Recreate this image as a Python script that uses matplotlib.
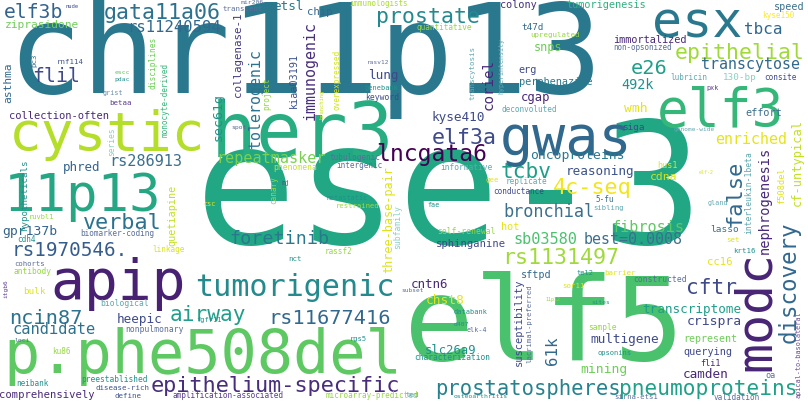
import matplotlib
matplotlib.use("Agg")
import matplotlib.pyplot as plt

# word, colour
words = [
    ("chr11p13", "#2a788e"), ("ese-3", "#22a785"), ("elf5", "#4ac16d"),
    ("p.phe508del", "#5ec962"), ("apip", "#482173"), ("11p13", "#26a784"),
    ("cystic", "#b5de2b"), ("her3", "#27ad81"), ("gwas", "#31688e"),
    ("esx", "#2a788e"), ("elf3", "#35b779"), ("modc", "#482475"),
    ("tumorigenic", "#238a8d"), ("elf3b", "#33638d"), ("ziprasidone", "#6ece58"),
    ("gata11a06", "#2c728e"), ("rs11240594", "#31688e"), ("prostate", "#23898e"),
    ("epithelial", "#a0da39"), ("e26", "#1f9e89"), ("transcytose", "#31688e"),
    ("lncgata6", "#440154"), ("three-base-pair", "#dde318"), ("foretinib", "#2a788e"),
    ("rs1131497", "#a0da39"), ("epithelium-specific", "#472d7b"),
    ("prostatospheres", "#26828e"), ("pneumoproteins", "#1fa187"),
    ("rs11677416", "#31688e"), ("airway", "#1f9e89"), ("ncin87", "#2c728e"),
    ("candidate", "#2c728e"), ("rs1970546.", "#365c8d"), ("verbal", "#2c728e"),
    ("4c-seq", "#f2e51d"), ("tcbv", "#1f9e89"), ("cftr", "#3e4a89"),
    ("discovery", "#31688e"), ("false", "#31688e"), ("fibrosis", "#5ec962"),
    ("best=0.0008", "#3b6f8e"), ("sb03580", "#4ac16d"), ("bronchial", "#3b6f8e"),
    ("repeatmasker", "#7ad151"), ("rs286913", "#3b6f8e"), ("sec61g", "#21918c"),
    ("tolerogenic", "#2c728e"), ("immunogenic", "#472d7b"), ("collagenase-1", "#443983"),
    ("kiaa03191", "#3b528b"), ("flil", "#3e4a89"), ("lung", "#3e4a89"),
    ("collection-often", "#482878"), ("elf3a", "#3e4a89"), ("enriched", "#e5e419"),
    ("oncoproteins", "#2a788e"), ("reasoning", "#3b528b"), ("cdna", "#d2e21b"),
    ("transcriptome", "#1f9e89"), ("crispra", "#3e4a89"), ("multigene", "#3e4a89"),
    ("querying", "#3e4a89"), ("camden", "#482878"), ("fli1", "#482878"),
    ("slc26a9", "#21918c"), ("chst8", "#e5e419"), ("cntn6", "#482878"),
    ("sftpd", "#31688e"), ("susceptibility", "#3e4a89"), ("61k", "#31688e"),
    ("nephrogenesis", "#482878"), ("cf-untypical", "#c2df23"), ("f508del", "#dde318"),
    ("interleukin-1beta", "#5fa8b0"), ("heepic", "#3e4a89"), ("gpr137b", "#33638d"),
    ("quetiapine", "#c2df23"), ("comprehensively", "#482878"), ("phred", "#33638d"),
    ("kyse410", "#3e4a89"), ("immortalized", "#482878"), ("coriel", "#482878"),
    ("perphenazine", "#2a788e"), ("492k", "#21918c"), ("cgap", "#482878"),
    ("snps", "#6ece58"), ("tbca", "#31688e"), ("erg", "#3e4a89"), ("wmh", "#e5e419"),
    ("siga", "#3e4a89"), ("asthma", "#31688e"), ("bulk", "#dde318"),
    ("sphinganine", "#3e4a89"), ("hot", "#e5e419"), ("lasso", "#3b6f8e"),
    ("cc16", "#e5e419"), ("represent", "#6ece58"), ("mining", "#6ece58"),
    ("tumorigenesis", "#2db27d"), ("colony", "#472d7b"), ("speed", "#3b6f8e"),
    ("etsl", "#2a788e"), ("chip", "#31688e"), ("apical-to-basolateral", "#6a4c93"),
    ("immunologists", "#addc30"), ("transient", "#5a6e9a"), ("nude", "#3e4a89"),
    ("mir206", "#5a6e9a"), ("disciplines", "#6ece58"), ("monocyte-derived", "#35b779"),
    ("project", "#95d840"), ("branching", "#c8e020"), ("overexpressed", "#d2e21b"),
    ("rasv12", "#5a6e9a"), ("genebank", "#21918c"), ("keyword", "#3e4a89"),
    ("rnf114", "#3b528b"), ("pc3", "#3b6f8e"), ("escc", "#5ec962"), ("pdac", "#21918c"),
    ("grist", "#6d8da8"), ("betaa", "#5b3d8f"), ("spot", "#5a6e9a"), ("series", "#8ccfc0"),
    ("tubulogenic", "#5a6e9a"), ("intergenic", "#5a6e9a"), ("phenomena", "#c8e020"),
    ("hypotheticals", "#21918c"), ("nj", "#5b3d8f"), ("canary", "#95d840"),
    ("metastatic", "#21918c"), ("csc", "#e5e419"), ("quantitative", "#95d840"),
    ("t47d", "#31688e"), ("upregulated", "#95d840"), ("kyse150", "#fde725"),
    ("non-opsonized", "#5a6e9a"), ("transcytosis", "#5fa8b0"), ("hyperintensity", "#5fa8b0"),
    ("lubricin", "#5fa8b0"), ("130-bp", "#8ccfc0"), ("consite", "#3e4a89"),
    ("pxk", "#5b3d8f"), ("deconvoluted", "#5fa8b0"), ("effort", "#3b6f8e"),
    ("genome-wide", "#5fa8b0"), ("hus1", "#e5e419"), ("elf-2", "#dde318"),
    ("informative", "#5fa8b0"), ("gee", "#e5e419"), ("replicate", "#5fa8b0"),
    ("conductance", "#3e4a89"), ("5-fu", "#3b6f8e"), ("gland", "#5fa8b0"),
    ("cdh4", "#21918c"), ("ruvbl1", "#95d840"), ("biomarker-coding", "#5a6e9a"),
    ("linkage", "#dde318"), ("cohorts", "#5a6e9a"), ("antibody", "#95d840"),
    ("restrained", "#a0da39"), ("rassf2", "#95d840"), ("nct", "#21918c"),
    ("subfamily", "#8ccfc0"), ("itgb6", "#5b3d8f"), ("biological", "#5fa8b0"),
    ("fgfr11", "#21918c"), ("nonpulmonary", "#5a6e9a"), ("loci", "#5a6e9a"),
    ("rgs5", "#21918c"), ("ku86", "#95d840"), ("neibank", "#21918c"),
    ("preestablished", "#21918c"), ("disease-rich", "#3b528b"), ("define", "#3b528b"),
    ("amplification-associated", "#5b3d8f"), ("microarray-predicted", "#95d840"),
    ("self-renewal", "#95d840"), ("fae", "#21918c"), ("sibling", "#5fa8b0"),
    ("krt16", "#21918c"), ("set", "#dde318"), ("tel2", "#21918c"), ("barrier", "#dde318"),
    ("constructed", "#5a6e9a"), ("subset", "#5a6e9a"), ("sor11", "#dde318"),
    ("lacrimal-preferred", "#5a6e9a"), ("11p12", "#95d840"), ("databank", "#21918c"),
    ("sites", "#21918c"), ("d407", "#21918c"), ("sample", "#95d840"), ("elk-4", "#5a6e9a"),
    ("opsonins", "#21918c"), ("characterization", "#21918c"), ("oa", "#5a6e9a"),
    ("osteoarthritis", "#21918c"), ("sirna-ets1", "#5a6e9a"), ("validation", "#5a6e9a"),
    ("ted", "#5fa8b0"),
]

# layout in pixels: centre x, centre y, ink span, vertical?
layout = {
    "chr11p13": (305, 58, 585, 0), "ese-3": (450, 196, 500, 0), "elf5": (544, 328, 275, 0),
    "p.phe508del": (203, 357, 392, 0), "apip": (118, 284, 133, 0), "11p13": (83, 197, 155, 0),
    "cystic": (107, 135, 193, 0), "her3": (303, 136, 180, 0), "gwas": (566, 140, 130, 0),
    "esx": (697, 24, 89, 0), "elf3": (721, 112, 125, 0), "modc": (756, 311, 118, 1),
    "tumorigenic": (295, 288, 196, 0), "elf3b": (34, 13, 58, 0), "ziprasidone": (42, 25, 73, 0),
    "gata11a06": (162, 13, 115, 0), "rs11240594": (174, 27, 92, 0), "prostate": (428, 17, 102, 0),
    "epithelial": (740, 53, 127, 0), "e26": (649, 68, 36, 0), "transcytose": (750, 65, 98, 0),
    "lncgata6": (432, 154, 109, 0), "three-base-pair": (389, 220, 105, 1),
    "foretinib": (279, 239, 98, 0), "rs1131497": (561, 258, 115, 0),
    "epithelium-specific": (275, 386, 246, 0), "prostatospheres": (528, 389, 182, 0),
    "pneumoproteins": (708, 389, 175, 0), "rs11677416": (330, 318, 120, 0),
    "airway": (208, 315, 75, 0), "ncin87": (46, 318, 72, 0), "candidate": (54, 330, 82, 0),
    "rs1970546.": (70, 250, 114, 0), "verbal": (122, 223, 77, 0), "4c-seq": (592, 188, 77, 0),
    "tcbv": (526, 172, 50, 0), "cftr": (712, 288, 50, 0), "discovery": (789, 282, 120, 1),
    "false": (735, 193, 65, 1), "fibrosis": (648, 227, 72, 0), "best=0.0008": (633, 239, 98, 0),
    "sb03580": (545, 239, 63, 0), "bronchial": (549, 212, 90, 0), "repeatmasker": (271, 159, 107, 0),
    "rs286913": (146, 162, 72, 0), "sec61g": (218, 117, 47, 1), "tolerogenic": (255, 98, 97, 1),
    "immunogenic": (310, 71, 98, 1), "collagenase-1": (238, 55, 84, 1), "kiaa03191": (294, 80, 54, 1),
    "flil": (56, 77, 47, 0), "lung": (383, 76, 30, 0), "collection-often": (59, 116, 98, 0),
    "elf3a": (464, 138, 64, 0), "enriched": (751, 140, 71, 0), "oncoproteins": (577, 155, 93, 0),
    "reasoning": (600, 172, 67, 0), "cdna": (664, 177, 27, 0), "transcriptome": (692, 309, 97, 0),
    "crispra": (714, 322, 54, 0), "multigene": (625, 340, 68, 0), "querying": (708, 352, 48, 0),
    "camden": (706, 374, 45, 0), "fli1": (710, 364, 20, 0), "slc26a9": (451, 350, 51, 0),
    "chst8": (445, 300, 38, 0), "cntn6": (430, 284, 37, 0), "sftpd": (536, 275, 30, 0),
    "susceptibility": (519, 322, 86, 1), "61k": (552, 351, 28, 1), "nephrogenesis": (765, 200, 105, 1),
    "cf-untypical": (797, 162, 85, 1), "f508del": (782, 186, 36, 1),
    "interleukin-1beta": (749, 193, 80, 1), "heepic": (140, 319, 45, 0), "gpr137b": (30, 231, 54, 0),
    "quetiapine": (172, 215, 60, 1), "comprehensively": (47, 395, 93, 0), "phred": (82, 167, 37, 0),
    "kyse410": (458, 118, 53, 0), "immortalized": (650, 40, 73, 0), "coriel": (489, 85, 50, 1),
    "perphenazine": (556, 82, 73, 0), "492k": (638, 85, 32, 0), "cgap": (536, 97, 29, 0),
    "snps": (548, 47, 28, 0), "tbca": (763, 30, 38, 0), "erg": (528, 70, 18, 0),
    "wmh": (636, 108, 23, 0), "siga": (633, 127, 22, 0), "asthma": (8, 83, 40, 1),
    "bulk": (34, 292, 22, 0), "sphinganine": (471, 244, 68, 0), "hot": (510, 227, 18, 0),
    "lasso": (725, 230, 28, 0), "cc16": (720, 262, 25, 0), "represent": (710, 339, 53, 0),
    "mining": (604, 369, 46, 0), "tumorigenesis": (606, 5, 79, 0), "colony": (518, 5, 36, 0),
    "speed": (789, 7, 30, 0), "etsl": (288, 6, 30, 0), "chip": (320, 12, 25, 0),
    "apical-to-basolateral": (799, 355, 86, 1), "immunologists": (379, 4, 58, 0),
    "transient": (243, 9, 39, 0), "nude": (72, 6, 13, 0), "mir206": (252, 3, 23, 0),
    "disciplines": (153, 63, 51, 1), "monocyte-derived": (165, 100, 73, 1), "project": (267, 94, 32, 1),
    "branching": (322, 104, 29, 1), "overexpressed": (337, 80, 60, 1), "rasv12": (378, 62, 22, 0),
    "genebank": (382, 88, 33, 0), "keyword": (382, 98, 33, 0), "rnf114": (70, 62, 26, 0),
    "pc3": (34, 60, 13, 1), "escc": (122, 72, 15, 0), "pdac": (122, 80, 15, 0),
    "grist": (113, 93, 20, 0), "betaa": (121, 103, 22, 0), "spot": (239, 127, 15, 0),
    "series": (112, 142, 28, 1), "tubulogenic": (355, 157, 50, 0), "intergenic": (359, 165, 45, 0),
    "phenomena": (295, 167, 43, 0), "hypotheticals": (25, 195, 70, 1), "nj": (286, 183, 8, 0),
    "canary": (274, 190, 27, 1), "metastatic": (347, 198, 40, 0), "csc": (210, 204, 12, 0),
    "quantitative": (444, 28, 55, 0), "t47d": (533, 27, 22, 0), "upregulated": (555, 35, 48, 0),
    "kyse150": (778, 15, 32, 0), "non-opsonized": (643, 48, 58, 0), "transcytosis": (472, 73, 53, 1),
    "hyperintensity": (501, 66, 55, 1), "lubricin": (689, 77, 36, 0), "130-bp": (740, 77, 33, 0),
    "consite": (780, 78, 32, 0), "pxk": (713, 88, 12, 0), "deconvoluted": (529, 110, 54, 0),
    "effort": (764, 113, 36, 0), "genome-wide": (694, 130, 40, 0), "hus1": (668, 165, 20, 0),
    "elf-2": (706, 173, 15, 0), "informative": (466, 167, 51, 0), "gee": (492, 180, 13, 0),
    "replicate": (526, 182, 41, 0), "conductance": (519, 192, 50, 0), "5-fu": (605, 200, 18, 0),
    "gland": (718, 203, 20, 0), "cdh4": (26, 239, 18, 0), "ruvbl1": (42, 217, 25, 0),
    "biomarker-coding": (117, 234, 73, 0), "linkage": (169, 249, 32, 0), "cohorts": (30, 264, 30, 0),
    "antibody": (33, 271, 37, 0), "restrained": (358, 206, 43, 0), "rassf2": (338, 252, 27, 0),
    "nct": (295, 259, 13, 0), "subfamily": (398, 227, 43, 1), "itgb6": (6, 289, 18, 1),
    "biological": (125, 304, 47, 0), "fgfr11": (209, 320, 25, 0), "nonpulmonary": (155, 330, 57, 0),
    "loci": (22, 340, 15, 0), "rgs5": (358, 339, 17, 0), "ku86": (61, 351, 18, 0),
    "neibank": (32, 383, 32, 0), "preestablished": (114, 380, 65, 0), "disease-rich": (122, 388, 52, 0),
    "define": (128, 396, 26, 0), "amplification-associated": (228, 396, 110, 0),
    "microarray-predicted": (372, 396, 90, 0), "self-renewal": (466, 232, 57, 0),
    "fae": (434, 205, 12, 0), "sibling": (609, 208, 30, 0), "krt16": (744, 251, 22, 0),
    "set": (733, 240, 13, 0), "tel2": (585, 273, 17, 0), "barrier": (620, 273, 31, 0),
    "constructed": (660, 279, 52, 0), "subset": (413, 291, 22, 0), "sor11": (574, 286, 22, 0),
    "lacrimal-preferred": (529, 324, 77, 1), "11p12": (553, 300, 15, 0), "databank": (471, 312, 33, 0),
    "sites": (601, 303, 18, 0), "d407": (461, 324, 15, 0), "sample": (602, 327, 28, 0),
    "elk-4": (477, 330, 20, 0), "opsonins": (614, 353, 34, 0), "characterization": (452, 358, 75, 0),
    "oa": (771, 376, 10, 0), "osteoarthritis": (481, 397, 53, 0), "sirna-ets1": (636, 397, 43, 0),
    "validation": (737, 397, 45, 0), "ted": (412, 395, 13, 0),
}

W, H = 808, 404
fig = plt.figure(figsize=(W / 100, H / 100), dpi=100)
ax = fig.add_axes([0, 0, 1, 1])
ax.set_xlim(0, W)
ax.set_ylim(H, 0)
ax.axis("off")
fig.canvas.draw()
renderer = fig.canvas.get_renderer()

# size each word so its length matches the span
for word, color in words:
    cx, cy, span, vert = layout[word]
    rot = 90 if vert else 0
    t = ax.text(cx, cy, word, fontsize=10, family="DejaVu Sans Mono", color=color,
                rotation=rot, ha="center", va="center", rotation_mode="anchor")
    bb = t.get_window_extent(renderer)
    size = bb.height if vert else bb.width
    t.set_fontsize(10 * span / size * 1.02)

fig.savefig("out.png", dpi=100, facecolor="white")
